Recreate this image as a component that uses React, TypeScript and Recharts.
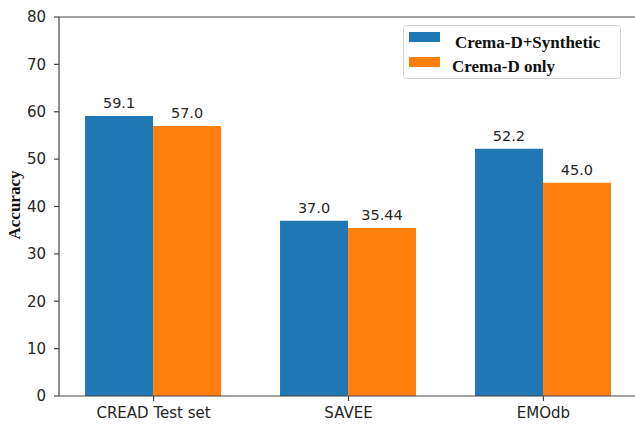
import React from 'react';
import { BarChart, Bar, XAxis, YAxis, ReferenceLine, LabelList, Legend } from 'recharts';

const categories = ['CREAD Test set', 'SAVEE', 'EMOdb'];
const synthetic = [59.1, 37.0, 52.2];
const syntheticLabels = ['59.1', '37.0', '52.2'];
const cremaOnly = [57.0, 35.44, 45.0];
const cremaOnlyLabels = ['57.0', '35.44', '45.0'];
const yTicks = [0, 10, 20, 30, 40, 50, 60, 70, 80];
const seriesNames = ['Crema-D+Synthetic', 'Crema-D only'];

const BLUE = '#1f77b4';
const ORANGE = '#ff7f0e';
const AXIS = '#444';
const TEXT = '#262626';
const TICK_FONT = '"DejaVu Sans", sans-serif';
const SERIF = '"Liberation Serif", "Times New Roman", serif';

const data = categories.map((c, i) => ({
  idx: i,
  name: c,
  synthetic: synthetic[i],
  syntheticLabel: syntheticLabels[i],
  cremaOnly: cremaOnly[i],
  cremaOnlyLabel: cremaOnlyLabels[i],
}));

const LegendBox = () => (
  <svg width={220} height={56} style={{ display: 'block' }}>
    <rect x={0.5} y={0.5} width={217} height={53} rx={3} ry={3} fill="#fff" stroke="#d4d4d4" strokeWidth={1} />
    <rect x={6} y={7} width={31} height={10} fill={BLUE} />
    <text x={52} y={22.5} fontFamily={SERIF} fontWeight="bold" fontSize={17} fill="#111">{seriesNames[0]}</text>
    <rect x={6} y={32} width={31} height={10} fill={ORANGE} />
    <text x={49} y={46.5} fontFamily={SERIF} fontWeight="bold" fontSize={17} fill="#111">{seriesNames[1]}</text>
  </svg>
);

const YLabel = () => (
  <text
    x={20}
    y={205}
    transform="rotate(-90 20 205)"
    textAnchor="middle"
    fontFamily={SERIF}
    fontWeight="bold"
    fontSize={17}
    fill="#111"
  >
    Accuracy
  </text>
);

export default function App() {
  return (
    <div style={{ position: 'absolute', left: 0, top: 0, width: 635, height: 425, overflow: 'hidden', background: '#fff' }}>
      <BarChart
        width={660}
        height={425}
        data={data}
        margin={{ top: 17, right: 22, left: 0, bottom: 0 }}
        barGap={0}
      >
        <XAxis
          dataKey="idx"
          type="number"
          domain={[-0.485, 2.485]}
          allowDataOverflow
          ticks={[0, 1, 2]}
          tickFormatter={(v: number) => categories[v] ?? ''}
          height={29}
          tickSize={5}
          tickMargin={6}
          stroke={AXIS}
          strokeWidth={1.2}
          tick={{ fill: TEXT, fontSize: 15, fontFamily: TICK_FONT }}
          interval={0}
        />
        <YAxis
          domain={[0, 80]}
          ticks={yTicks}
          width={59}
          tickSize={5}
          tickMargin={8}
          stroke={AXIS}
          strokeWidth={1.2}
          tick={{ fill: TEXT, fontSize: 15, fontFamily: TICK_FONT }}
          interval={0}
          label={<YLabel />}
        />
        <ReferenceLine y={80} stroke={AXIS} strokeWidth={1.2} ifOverflow="extendDomain" />
        <Legend
          layout="vertical"
          align="center"
          verticalAlign="middle"
          content={() => <LegendBox />}
          wrapperStyle={{ position: 'absolute', left: 403, top: 25, width: 220, height: 56 }}
        />
        <Bar dataKey="synthetic" name={seriesNames[0]} fill={BLUE} barSize={68} isAnimationActive={false}>
          <LabelList dataKey="syntheticLabel" position="top" offset={8} fill={TEXT} fontSize={14.5} fontFamily={TICK_FONT} />
        </Bar>
        <Bar dataKey="cremaOnly" name={seriesNames[1]} fill={ORANGE} barSize={68} isAnimationActive={false}>
          <LabelList dataKey="cremaOnlyLabel" position="top" offset={8} fill={TEXT} fontSize={14.5} fontFamily={TICK_FONT} />
        </Bar>
      </BarChart>
    </div>
  );
}
